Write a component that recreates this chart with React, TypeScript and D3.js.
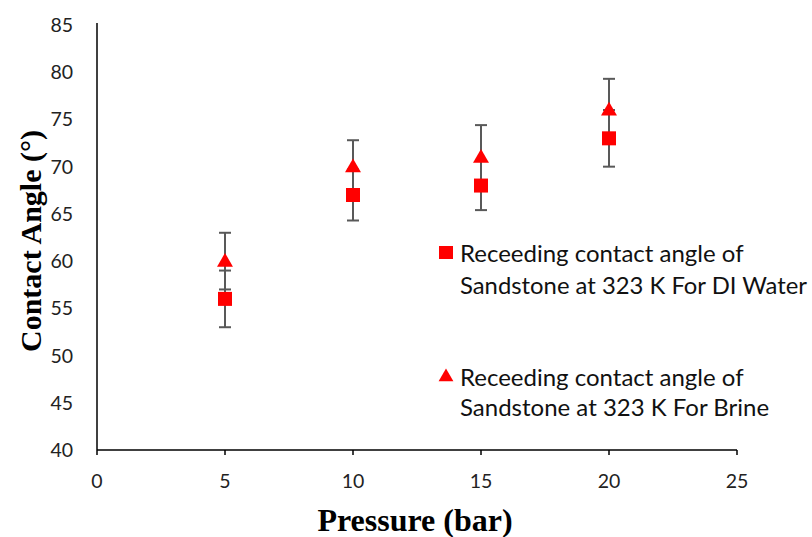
import React from "react";
import * as d3 from "d3";

const pressure = [5, 10, 15, 20];
const diWater = [56, 67, 68, 73];
const diWaterErr = [3, 2.7, 2.6, 3];
const brine = [60, 70, 71, 76];
const brineErr = [3, 2.8, 3.4, 3.3];
const xTicks = [0, 5, 10, 15, 20, 25];
const yTicks = [40, 45, 50, 55, 60, 65, 70, 75, 80, 85];

const width = 812;
const height = 537;
const tickFont = "Lato, 'Open Sans', sans-serif";
const titleFont = "'Liberation Serif', 'Times New Roman', serif";

const App = () => {
  const x = d3.scaleLinear().domain([0, 25]).range([97, 737]);
  const y = d3.scaleLinear().domain([40, 85]).range([450, 25]);

  const tri = d3.symbol().type(d3.symbolTriangle).size(110)();

  const errBar = (xv: number, yv: number, e: number, key: string) => {
    const cx = x(xv);
    return (
      <g key={key} stroke="#595959" strokeWidth={2}>
        <line x1={cx} x2={cx} y1={y(yv - e)} y2={y(yv + e)} />
        <line x1={cx - 6} x2={cx + 6} y1={y(yv - e)} y2={y(yv - e)} />
        <line x1={cx - 6} x2={cx + 6} y1={y(yv + e)} y2={y(yv + e)} />
      </g>
    );
  };

  return (
    <svg width={width} height={height} style={{ position: "absolute", left: 0, top: 0 }}>
      <rect width={width} height={height} fill="white" />

      {/* axes */}
      <line x1={x(0)} x2={x(0)} y1={y(85) - 2} y2={y(40)} stroke="black" strokeWidth={1.5} />
      <line x1={x(0)} x2={x(25)} y1={y(40)} y2={y(40)} stroke="black" strokeWidth={1.5} />
      {xTicks.map(t => (
        <g key={"xt" + t}>
          <line x1={x(t)} x2={x(t)} y1={y(40)} y2={y(40) + 5} stroke="black" strokeWidth={1.5} />
          <text x={x(t)} y={y(40) + 38} textAnchor="middle" fontFamily={tickFont} fontSize={19.5} fill="#222">{t}</text>
        </g>
      ))}
      {yTicks.map(t => (
        <text key={"yt" + t} x={73} y={y(t) + 7} textAnchor="end" fontFamily={tickFont} fontSize={19.5} fill="#222">{t}</text>
      ))}

      {/* axis titles */}
      <text x={415} y={531} textAnchor="middle" fontFamily={titleFont} fontWeight="bold" fontSize={32}>Pressure (bar)</text>
      <text transform={`translate(41,${241}) rotate(-90)`} textAnchor="middle" fontFamily={titleFont} fontWeight="bold" fontSize={30}>Contact Angle (°)</text>

      {/* error bars */}
      {pressure.map((p, i) => errBar(p, diWater[i], diWaterErr[i], "ew" + i))}
      {pressure.map((p, i) => errBar(p, brine[i], brineErr[i], "eb" + i))}

      {/* markers */}
      {pressure.map((p, i) => (
        <rect key={"w" + i} x={x(p) - 7} y={y(diWater[i]) - 7} width={14} height={14} fill="#ff0000" />
      ))}
      {pressure.map((p, i) => (
        <path key={"b" + i} d={tri!} transform={`translate(${x(p)},${y(brine[i]) + 1})`} fill="#ff0000" />
      ))}

      {/* legend */}
      <rect x={439} y={246} width={14} height={13} fill="#ff0000" />
      <text x={460} y={262} fontFamily={tickFont} fontSize={24} fill="#111">Receeding contact angle of</text>
      <text x={460} y={294} fontFamily={tickFont} fontSize={24} fill="#111" textLength={347} lengthAdjust="spacingAndGlyphs">Sandstone at 323 K For DI Water</text>
      <path d={d3.symbol().type(d3.symbolTriangle).size(95)()!} transform="translate(446,377)" fill="#ff0000" />
      <text x={460} y={386} fontFamily={tickFont} fontSize={24} fill="#111">Receeding contact angle of</text>
      <text x={460} y={416} fontFamily={tickFont} fontSize={24} fill="#111">Sandstone at 323 K For Brine</text>
    </svg>
  );
};

export default App;
